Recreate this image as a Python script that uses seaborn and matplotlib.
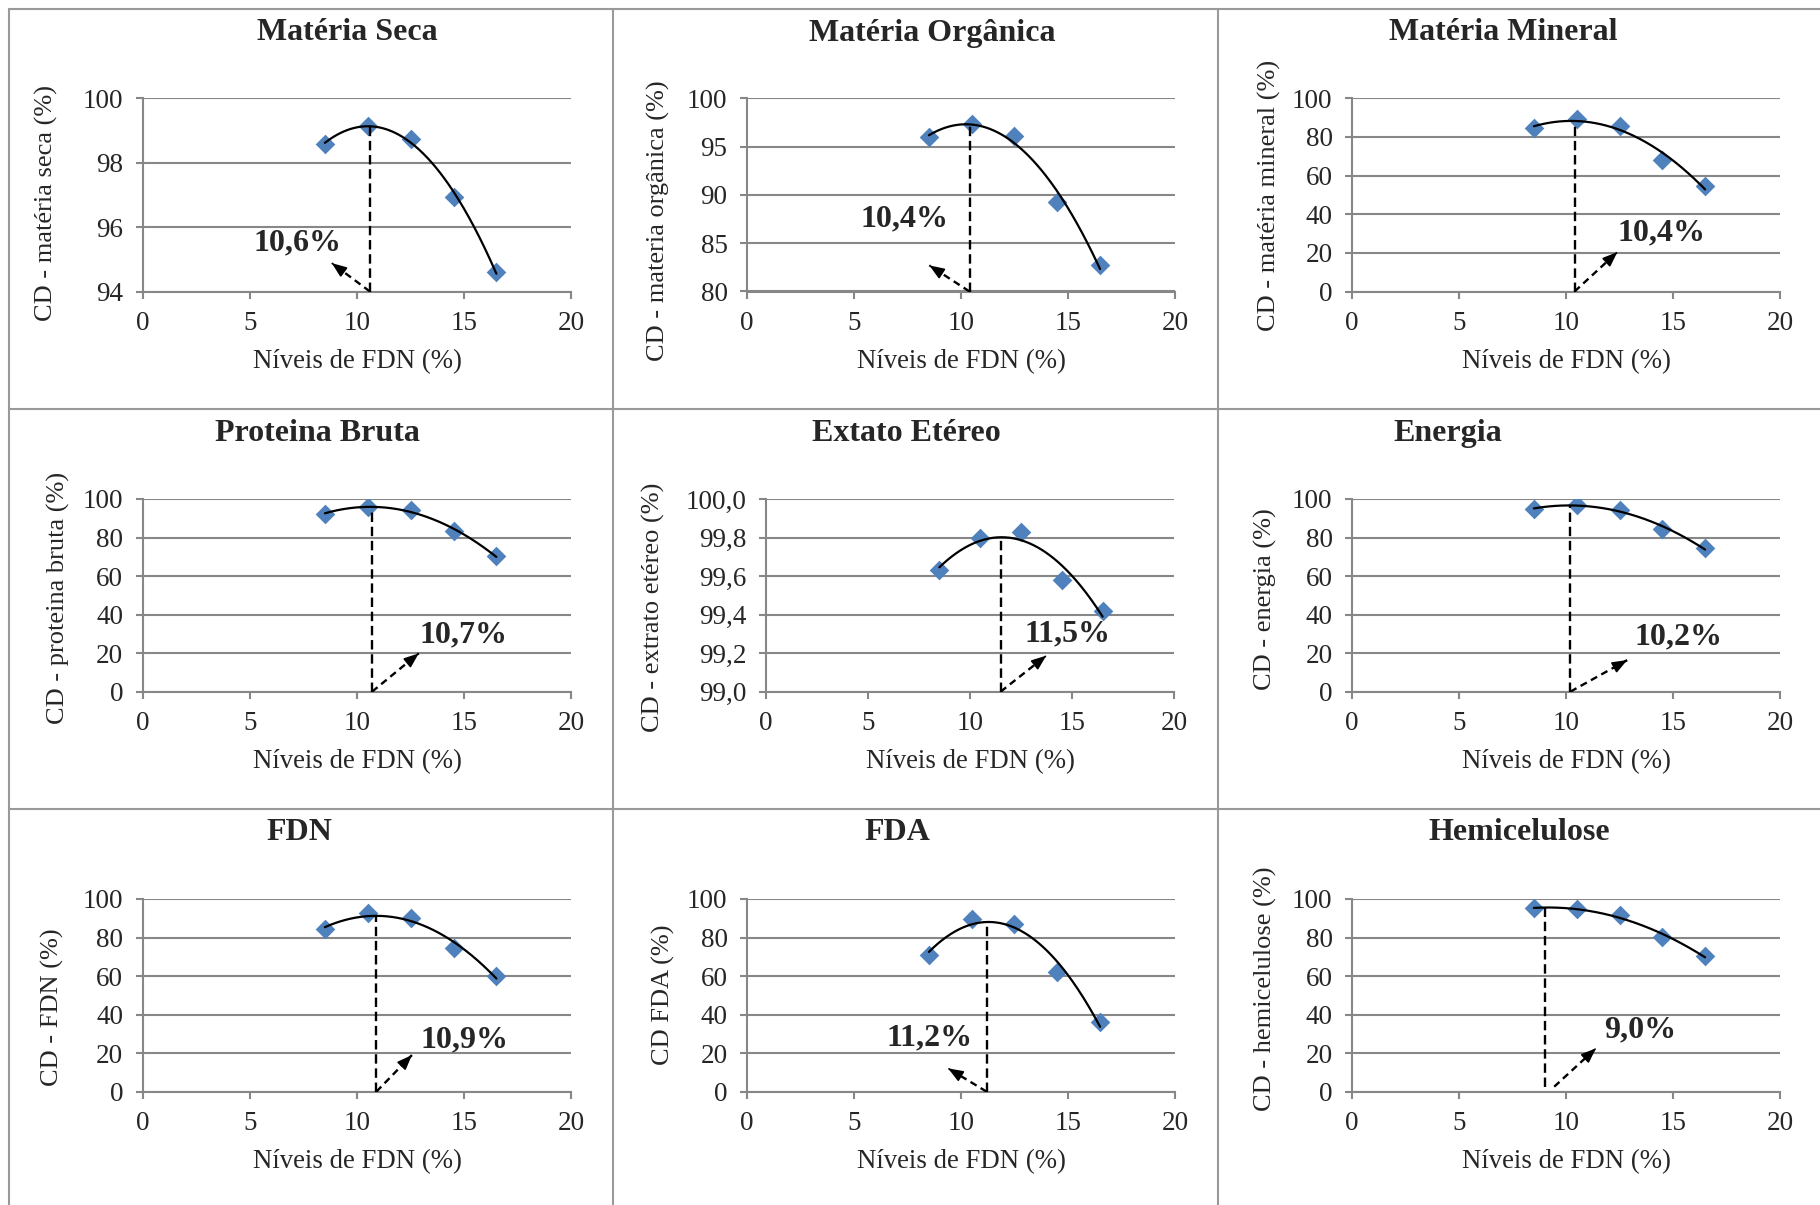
import numpy as np
import matplotlib.pyplot as plt
import seaborn as sns
from matplotlib.lines import Line2D

# níveis de FDN na dieta (%)
niveis = [8.5, 10.5, 12.5, 14.5, 16.5]

titulos = ['Matéria Seca', 'Matéria Orgânica', 'Matéria Mineral',
           'Proteina Bruta', 'Extato Etéreo', 'Energia',
           'FDN', 'FDA', 'Hemicelulose']
rotulos_y = ['CD - matéria seca (%)', 'CD - materia orgânica (%)', 'CD - matéria mineral (%)',
             'CD - proteina bruta (%)', 'CD - extrato etéreo (%)', 'CD - energia (%)',
             'CD - FDN (%)', 'CD FDA (%)', 'CD - hemicelulose (%)']

# coeficientes de digestibilidade
cd_ms = [98.59, 99.15, 98.74, 96.93, 94.62]
cd_mo = [96.0, 97.37, 96.13, 89.22, 82.76]
cd_mm = [84.6, 89.5, 85.5, 68.2, 54.4]
cd_pb = [92.4, 96.0, 94.1, 83.4, 70.4]
cd_ee = [99.63, 99.80, 99.83, 99.58, 99.42]
cd_en = [94.8, 96.9, 94.5, 84.3, 74.4]
cd_fdn = [84.4, 92.6, 90.0, 74.4, 60.2]
cd_fda = [70.9, 89.4, 87.2, 62.1, 36.0]
cd_hem = [95.2, 94.6, 91.7, 80.1, 70.4]
series = [cd_ms, cd_mo, cd_mm, cd_pb, cd_ee, cd_en, cd_fdn, cd_fda, cd_hem]

# nivel otimo de FDN (ponto de maximo)
otimos = [10.6, 10.4, 10.4, 10.7, 11.5, 10.2, 10.9, 11.2, 9.0]

yticks = [[94, 96, 98, 100], [80, 85, 90, 95, 100], [0, 20, 40, 60, 80, 100],
          [0, 20, 40, 60, 80, 100], [99.0, 99.2, 99.4, 99.6, 99.8, 100.0], [0, 20, 40, 60, 80, 100],
          [0, 20, 40, 60, 80, 100], [0, 20, 40, 60, 80, 100], [0, 20, 40, 60, 80, 100]]

## layout (pixels da figura 1820x1205)
W, H = 1820, 1205
cols = [(142.7, 571.4), (747, 1175), (1352, 1780)]
rows = [(98.3, 291.5), (499, 691.7), (899, 1091.7)]
title_pos = [(347, 32), (932, 33), (1503, 32), (317, 433), (906, 433), (1448, 433),
             (299, 832), (897, 832), (1519, 832)]
ylab_pos = [(46, 203), (658, 221), (1269, 195), (58, 598), (653, 607), (1265, 599),
            (52, 1007), (663, 995), (1265, 989)]
# ponta da seta e texto (fração dos eixos), deslocamento da base
seta = [(0.441, 0.147), (0.426, 0.135), (0.62, 0.204), (0.644, 0.199), (0.687, 0.187),
        (0.643, 0.164), (0.628, 0.19), (0.47, 0.121), (0.57, 0.225)]
texto = [(0.36, 0.25), (0.367, 0.374), (0.724, 0.302), (0.748, 0.294), (0.738, 0.298),
         (0.762, 0.282), (0.75, 0.268), (0.426, 0.277), (0.674, 0.32)]
base = [(0, 0), (0, 0), (0, 0), (0, 0), (0, 0), (0, 0), (0, 0), (0, 0), (0.45, 0.026)]

sns.set_style('white')
plt.rcParams['font.family'] = ['Liberation Serif', 'DejaVu Serif']
grey = '#878787'
blue = '#4F81BD'

fig = plt.figure(figsize=(W / 100, H / 100), dpi=100)

for i in range(9):
    r, c = divmod(i, 3)
    x0, x1 = cols[c]
    if i == 4:
        x0, x1 = 766, 1174
    y0, y1 = rows[r]
    ax = fig.add_axes([x0 / W, 1 - y1 / H, (x1 - x0) / W, (y1 - y0) / H])

    y = series[i]
    sns.scatterplot(x=niveis, y=y, ax=ax, marker='D', s=100, color=blue, linewidth=0, zorder=3)

    # ajuste quadratico
    coef = np.polyfit(niveis, y, 2)
    xx = np.linspace(niveis[0], niveis[-1], 200)
    ax.plot(xx, np.polyval(coef, xx), color='black', lw=1.6, zorder=4)

    yt = yticks[i]
    ymin, ymax = yt[0], yt[-1]
    ax.set_xlim(0, 20)
    ax.set_ylim(ymin, ymax)
    ax.set_xticks([0, 5, 10, 15, 20])
    ax.set_yticks(yt)
    if i == 4:
        ax.set_yticklabels([f'{v:.1f}'.replace('.', ',') for v in yt])
    else:
        ax.set_yticklabels([str(int(v)) for v in yt])

    ax.grid(axis='y', color=grey, lw=1.5)
    ax.set_axisbelow(True)
    for s in ['top', 'right']:
        ax.spines[s].set_visible(False)
    for s in ['left', 'bottom']:
        ax.spines[s].set_color(grey)
        ax.spines[s].set_linewidth(1.5)
    ax.tick_params(axis='both', direction='out', length=5, width=1.5, color=grey,
                   labelsize=19.5, pad=9, left=True, bottom=True)

    # linha tracejada no ponto otimo
    xo = otimos[i]
    yo = np.polyval(coef, xo)
    xa = (xo - 0) / 20
    ytop = (yo - ymin) / (ymax - ymin)
    ax.plot([xa, xa], [base[i][1], ytop], transform=ax.transAxes, color='black', lw=1.7,
            ls=(0, (4, 2)), zorder=5)

    # seta tracejada ate o rotulo
    tx, ty = (xo + base[i][0]) / 20, base[i][1]
    hx, hy = seta[i]
    ax.plot([tx, hx], [ty, hy], transform=ax.transAxes, color='black', lw=1.7,
            ls=(0, (3, 2)), zorder=5)
    dx, dy = hx - tx, hy - ty
    ax.annotate('', xy=(hx, hy), xycoords='axes fraction',
                xytext=(hx - 0.02 * dx, hy - 0.02 * dy), textcoords='axes fraction',
                arrowprops=dict(arrowstyle='-|>,head_length=0.9,head_width=0.35',
                                lw=1.2, color='black', shrinkA=0, shrinkB=0, mutation_scale=10))
    ax.text(texto[i][0], texto[i][1], f'{xo:.1f}%'.replace('.', ','), transform=ax.transAxes,
            ha='center', va='center', fontsize=23, fontweight='bold')

    ax.text(0.5, -0.363, 'Níveis de FDN (%)', transform=ax.transAxes, ha='center', va='center',
            fontsize=19.3)
    fig.text(ylab_pos[i][0] / W, 1 - ylab_pos[i][1] / H, rotulos_y[i], rotation=90,
             ha='center', va='center', fontsize=19)
    fig.text(title_pos[i][0] / W, 1 - title_pos[i][1] / H, titulos[i], ha='center', va='center',
             fontsize=23, fontweight='bold')

# bordas da tabela
for xv in [8.5, 613, 1218]:
    fig.add_artist(Line2D([xv / W, xv / W], [1 - 9 / H, 0], color='#999999', lw=1.5))
for yh in [9, 409, 809]:
    fig.add_artist(Line2D([8.5 / W, 1], [1 - yh / H, 1 - yh / H], color='#999999', lw=1.5))

plt.savefig('out.png', dpi=100)
plt.close()
